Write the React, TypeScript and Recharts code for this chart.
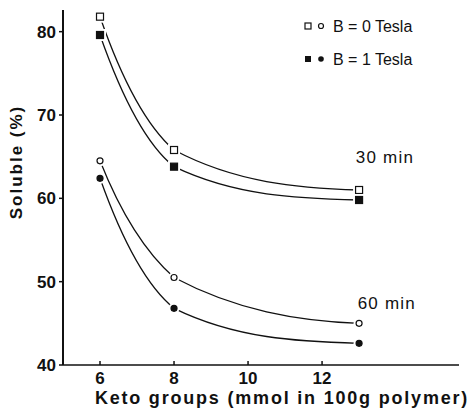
import React from "react";
import { LineChart, Line, XAxis, YAxis, ReferenceDot } from "recharts";

// keto groups (mmol in 100 g polymer)
const keto = [6, 8, 13];
// soluble fraction (%)
const b0_30min = [81.8, 65.8, 61.0];
const b1_30min = [79.6, 63.8, 59.8];
const b0_60min = [64.5, 50.5, 45.0];
const b1_60min = [62.4, 46.8, 42.6];

const xTicks = [6, 8, 10, 12];
const yTicks = [40, 50, 60, 70, 80];

const data = keto.map((k, i) => ({
  keto: k,
  b0_30: b0_30min[i],
  b1_30: b1_30min[i],
  b0_60: b0_60min[i],
  b1_60: b1_60min[i],
}));

const FONT = "'Liberation Sans', Arial, sans-serif";
const INK = "#111";

// hand-drawn style curve through the points: tangents follow a decaying
// (hyperbola-like) shape, kinks at the markers are hidden by the marker halo
function smoothCurve(ctx: any) {
  let xs: number[] = [];
  let ys: number[] = [];
  return {
    areaStart() {},
    areaEnd() {},
    lineStart() { xs = []; ys = []; },
    point(x: number, y: number) { xs.push(+x); ys.push(+y); },
    lineEnd() {
      const n = xs.length;
      if (!n) return;
      ctx.moveTo(xs[0], ys[0]);
      if (n < 3) { for (let i = 1; i < n; i++) ctx.lineTo(xs[i], ys[i]); return; }
      const s: number[] = [];
      for (let i = 0; i < n - 1; i++) s.push((ys[i + 1] - ys[i]) / (xs[i + 1] - xs[i]));
      // left / right tangent at every point
      const mL: number[] = new Array(n).fill(0);
      const mR: number[] = new Array(n).fill(0);
      for (let i = 1; i < n - 1; i++) {
        const g = s[i - 1] * s[i] > 0 ? Math.sign(s[i]) * Math.sqrt(s[i - 1] * s[i]) : 0;
        mL[i] = 1.4 * g;
        mR[i] = 0.85 * g;
      }
      mR[0] = 1.6 * s[0];
      mL[n - 1] = 0.15 * s[n - 2];
      for (let i = 0; i < n - 1; i++) {
        let a = mR[i], b = mL[i + 1];
        if (s[i] === 0) { a = 0; b = 0; }
        else {
          const al = a / s[i], be = b / s[i];
          const h = al * al + be * be;
          if (h > 9) { const t = 3 / Math.sqrt(h); a = t * al * s[i]; b = t * be * s[i]; }
        }
        const dx = (xs[i + 1] - xs[i]) / 3;
        ctx.bezierCurveTo(xs[i] + dx, ys[i] + a * dx, xs[i + 1] - dx, ys[i + 1] - b * dx, xs[i + 1], ys[i + 1]);
      }
    },
  };
}

const squareDot = (filled: boolean) => (p: any) => (
  <g key={`s-${p.index}-${filled}`}>
    <rect x={p.cx - 6} y={p.cy - 6} width={12} height={12} fill="#fff" />
    <rect x={p.cx - 3.5} y={p.cy - 3.5} width={7} height={7}
      fill={filled ? INK : "#fff"} stroke={INK} strokeWidth={1.2} />
  </g>
);
const circleDot = (filled: boolean) => (p: any) => (
  <g key={`c-${p.index}-${filled}`}>
    <circle cx={p.cx} cy={p.cy} r={5.5} fill="#fff" />
    <circle cx={p.cx} cy={p.cy} r={3} fill={filled ? INK : "#fff"} stroke={INK} strokeWidth={1.2} />
  </g>
);

const XTick = (props: any) => {
  const { x, y, payload } = props;
  return (
    <g>
      <line x1={x} y1={y - 4} x2={x} y2={y} stroke={INK} strokeWidth={1.5} />
      <text x={x} y={y + 19} textAnchor="middle" fontSize={17} fontWeight="bold" fill={INK} fontFamily={FONT}>
        {payload.value}
      </text>
    </g>
  );
};

export default function App() {
  return (
    <div style={{ position: "absolute", left: 0, top: 0, width: 472, height: 411, background: "#fff" }}>
      <LineChart width={472} height={411} data={data} margin={{ top: 10, right: 13, left: 0, bottom: 0 }}>
        <XAxis dataKey="keto" type="number" domain={[5, 15.7]} ticks={xTicks} height={46}
          axisLine={{ stroke: INK, strokeWidth: 1.5 }} tickLine={false} tickSize={0} tickMargin={0}
          tick={<XTick />} allowDataOverflow />
        <YAxis type="number" domain={[40, 82.6]} ticks={yTicks} width={63} allowDataOverflow
          axisLine={{ stroke: INK, strokeWidth: 2 }} tickLine={{ stroke: INK, strokeWidth: 1.5 }}
          tickSize={4} tickMargin={3}
          tick={{ fontSize: 17, fontWeight: "bold", fill: INK, fontFamily: FONT }} />
        <Line type={smoothCurve as any} dataKey="b0_30" stroke={INK} strokeWidth={1.3} dot={squareDot(false)} isAnimationActive={false} />
        <Line type={smoothCurve as any} dataKey="b1_30" stroke={INK} strokeWidth={1.3} dot={squareDot(true)} isAnimationActive={false} />
        <Line type={smoothCurve as any} dataKey="b0_60" stroke={INK} strokeWidth={1.3} dot={circleDot(false)} isAnimationActive={false} />
        <Line type={smoothCurve as any} dataKey="b1_60" stroke={INK} strokeWidth={1.3} dot={circleDot(true)} isAnimationActive={false} />
        <ReferenceDot x={13.7} y={65.0} r={0} stroke="none"
          label={{ value: "30 min", fontSize: 17, fill: INK, fontFamily: FONT, position: "center", letterSpacing: 1.2 }} />
        <ReferenceDot x={13.75} y={47.4} r={0} stroke="none"
          label={{ value: "60 min", fontSize: 17, fill: INK, fontFamily: FONT, position: "center", letterSpacing: 1.2 }} />
      </LineChart>
      <svg width={472} height={411} style={{ position: "absolute", left: 0, top: 0, pointerEvents: "none" }}>
        <g fontFamily={FONT} fill={INK}>
          <rect x={305} y={23} width={6} height={6} fill="#fff" stroke={INK} strokeWidth={1.2} />
          <circle cx={321} cy={26} r={2.5} fill="#fff" stroke={INK} strokeWidth={1.2} />
          <text x={333} y={32} fontSize={16}>B = 0 Tesla</text>
          <rect x={305} y={56} width={6} height={6} fill={INK} />
          <circle cx={321} cy={59} r={2.8} fill={INK} />
          <text x={333} y={65} fontSize={16}>B = 1 Tesla</text>
          <text x={282} y={404} fontSize={18} fontWeight="bold" textAnchor="middle" letterSpacing={1.8}>
            Keto groups (mmol in 100g polymer)
          </text>
          <text transform="translate(22,162) rotate(-90)" fontSize={17} fontWeight="bold" textAnchor="middle" letterSpacing={2}>
            Soluble (%)
          </text>
        </g>
      </svg>
    </div>
  );
}
